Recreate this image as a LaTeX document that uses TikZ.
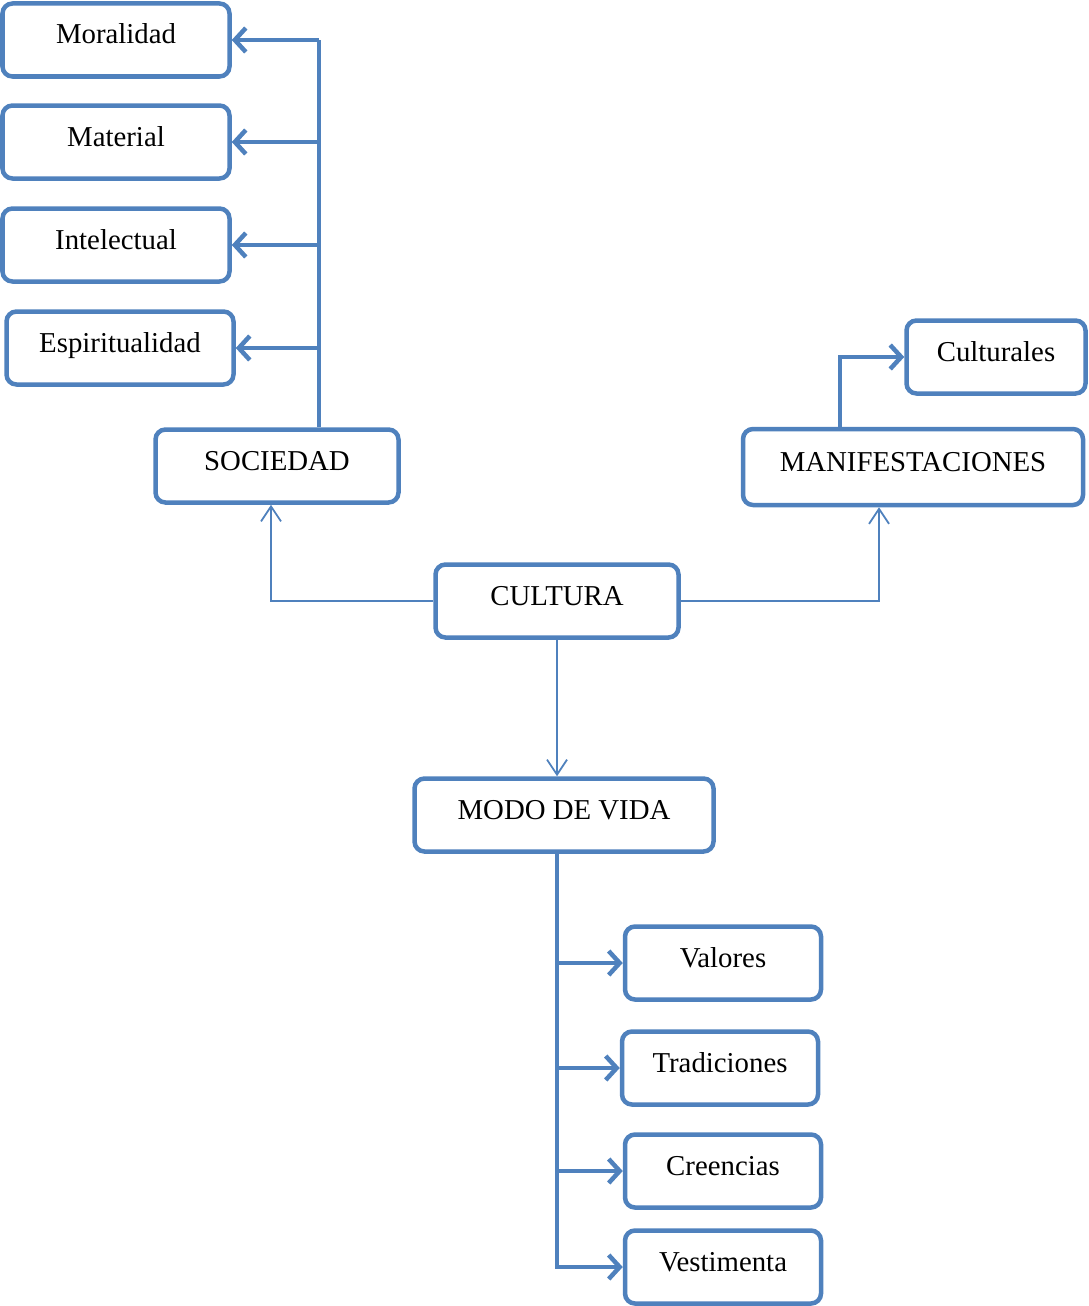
\documentclass[tikz,border=0pt]{standalone}
\usepackage{fontspec}
\setmainfont{Liberation Serif}
\usetikzlibrary{arrows.meta}
\definecolor{azul}{RGB}{79,129,189}

\begin{document}
\begin{tikzpicture}[x=1pt,y=-1pt,
		caja/.style={draw=azul, line width=4.5pt, rounded corners=10pt, fill=white,
			minimum height=73pt, inner sep=0pt, text height=20pt, text depth=12pt,
			font=\fontsize{28.8}{34}\selectfont},
		gruesa/.style={draw=azul, line width=4.5pt, -{Straight Barb[length=11pt,width=24pt,line width=4.5pt]}},
		fina/.style={draw=azul, line width=1.8pt, -{Straight Barb[length=15pt,width=20pt,line width=1.8pt]}}]
		\useasboundingbox (0,0) rectangle (1088,1306);
		
		\node[caja, minimum width=227pt] (moralidad) at (116,40) {Moralidad};
		\node[caja, minimum width=227pt] (material) at (116,142) {Material};
		\node[caja, minimum width=227pt] (intelectual) at (116,245) {Intelectual};
		\node[caja, minimum width=227pt] (espiritualidad) at (120,348) {Espiritualidad};
		\node[caja, minimum width=243pt] (sociedad) at (277,466) {SOCIEDAD};
		\node[caja, minimum width=340pt, minimum height=76pt] (manif) at (913,467) {MANIFESTACIONES};
		\node[caja, minimum width=179pt] (culturales) at (996,357) {Culturales};
		\node[caja, minimum width=243pt] (cultura) at (557,601) {CULTURA};
		\node[caja, minimum width=299pt] (modo) at (564,815) {MODO DE VIDA};
		\node[caja, minimum width=196pt] (valores) at (723,963) {Valores};
		\node[caja, minimum width=196pt] (tradiciones) at (720,1068) {Tradiciones};
		\node[caja, minimum width=196pt] (creencias) at (723,1171) {Creencias};
		\node[caja, minimum width=196pt] (vestimenta) at (723,1267) {Vestimenta};
		
		% sociedad
		\coordinate (bus1) at (319,40);
		\draw[azul, line width=4.5pt] (bus1 |- sociedad.north) -- (bus1);
		\foreach \n in {moralidad,material,intelectual,espiritualidad}
			\draw[gruesa] (bus1 |- \n.east) -- (\n.east);
		
		% manifestaciones
		\draw[gruesa] ([xshift=-73pt]manif.north) |- (culturales.west);
		
		% cultura
		\draw[fina] (cultura.west) -| ([xshift=-6pt]sociedad.south);
		\draw[fina] (cultura.east) -| ([xshift=-34pt]manif.south);
		\draw[fina] (cultura.south) -- (cultura.south |- modo.north);
		
		% modo de vida
		\coordinate (bus2) at ([xshift=-7pt]modo.south);
		\draw[gruesa] (bus2) |- (vestimenta.west);
		\foreach \n in {valores,tradiciones,creencias}
			\draw[gruesa] (bus2 |- \n.west) -- (\n.west);
	\end{tikzpicture}
\end{document}
